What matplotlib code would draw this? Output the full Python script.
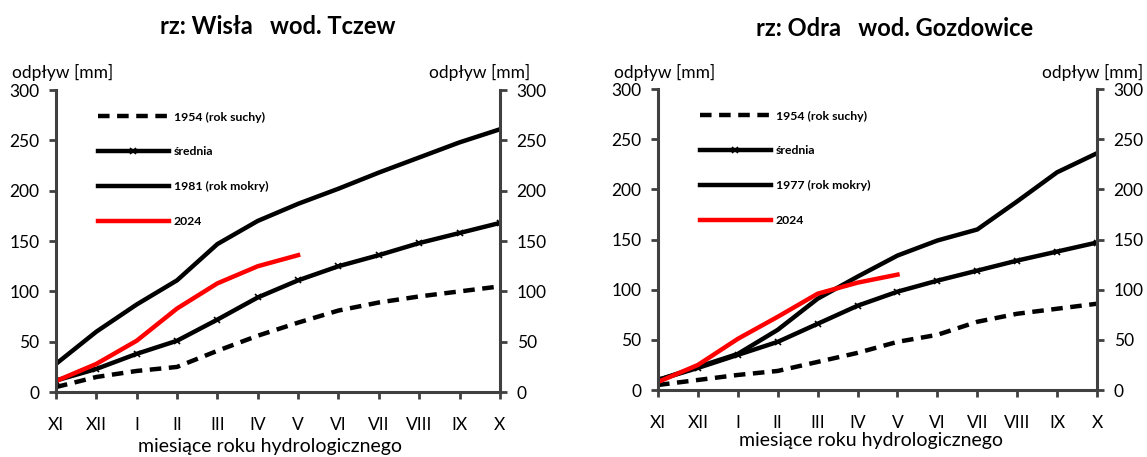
import matplotlib
matplotlib.use("Agg")
import matplotlib.pyplot as plt

plt.rcParams['font.family'] = ['Lato', 'DejaVu Sans']

# months of the hydrological year
months = ["XI", "XII", "I", "II", "III", "IV", "V", "VI", "VII", "VIII", "IX", "X"]

# Wisła - Tczew, cumulative runoff [mm]
wisla_1954 = [5, 15, 21, 25, 41, 56, 69, 81, 89, 95, 100, 105]
wisla_mean = [11.5, 23, 38, 51, 72, 94, 111, 125, 136, 148, 158, 168]
wisla_1981 = [28, 60, 87, 111, 147, 170, 187, 202, 218, 233, 248, 261]
wisla_2024 = [11, 28, 51, 83, 108, 125, 136]

# Odra - Gozdowice, cumulative runoff [mm]
odra_1954 = [5, 10, 15, 19, 28, 37, 48, 55, 68, 76, 81, 86]
odra_mean = [10, 22, 35, 48, 66, 84, 98, 109, 119, 129, 138, 147]
odra_1977 = [10, 23, 36, 60, 91, 113, 134, 149, 160, 188, 217, 236]
odra_2024 = [8, 25, 51, 73, 96, 107, 115]

SPINE = '#404040'


def draw_panel(ax, dry, mean, wet, cur, wet_label):
    x = list(range(len(months)))
    ax.plot(x, dry, color='black', lw=3.2, dashes=(2.6, 1.7),
            label='1954 (rok suchy)')
    ax.plot(x, mean, color='black', lw=3.2, marker='x', markersize=5,
            markeredgewidth=1.2, label='średnia')
    ax.plot(x, wet, color='black', lw=3.2, label=wet_label)
    ax.plot(x[:len(cur)], cur, color='red', lw=3.2, label='2024')

    ax.set_xlim(0, 11)
    ax.set_ylim(0, 300)
    ax.set_xticks(x)
    ax.set_xticklabels(months)
    ax.set_yticks(range(0, 301, 50))
    ax.tick_params(axis='both', direction='out', length=5, width=2,
                   color=SPINE, labelsize=12.5)
    ax.tick_params(axis='x', pad=13)
    ax.tick_params(axis='y', pad=7, right=True, labelright=True)
    for side in ['left', 'right', 'bottom']:
        ax.spines[side].set_color(SPINE)
        ax.spines[side].set_linewidth(2.2)
    ax.spines['top'].set_visible(False)

    leg = ax.legend(loc='upper left', bbox_to_anchor=(0.07, 0.965),
                    frameon=False, handlelength=5.8, labelspacing=1.95,
                    handletextpad=0.4, numpoints=1,
                    prop={'size': 8.8, 'weight': 'bold'})
    return leg


fig = plt.figure(figsize=(11.47, 4.57), dpi=100)
ax1 = fig.add_axes([0.0488, 0.142, 0.387, 0.661])
ax2 = fig.add_axes([0.5737, 0.1466, 0.3827, 0.6586])

draw_panel(ax1, wisla_1954, wisla_mean, wisla_1981, wisla_2024, '1981 (rok mokry)')
draw_panel(ax2, odra_1954, odra_mean, odra_1977, odra_2024, '1977 (rok mokry)')

fig.text(0.2424, 0.943, 'rz: Wisła   wod. Tczew', ha='center', va='center',
         fontsize=17, fontweight='bold')
fig.text(0.780, 0.937, 'rz: Odra   wod. Gozdowice', ha='center', va='center',
         fontsize=17, fontweight='bold')

for xl, xr in [(0.0105, 0.462), (0.535, 0.9965)]:
    fig.text(xl, 0.842, 'odpływ [mm]', ha='left', va='center', fontsize=12.5)
    fig.text(xr, 0.842, 'odpływ [mm]', ha='right', va='center', fontsize=12.5)

fig.text(0.235, 0.024, 'miesiące roku hydrologicznego', ha='center',
         va='center', fontsize=14)
fig.text(0.759, 0.036, 'miesiące roku hydrologicznego', ha='center',
         va='center', fontsize=14)

fig.savefig('out.png', dpi=100)
